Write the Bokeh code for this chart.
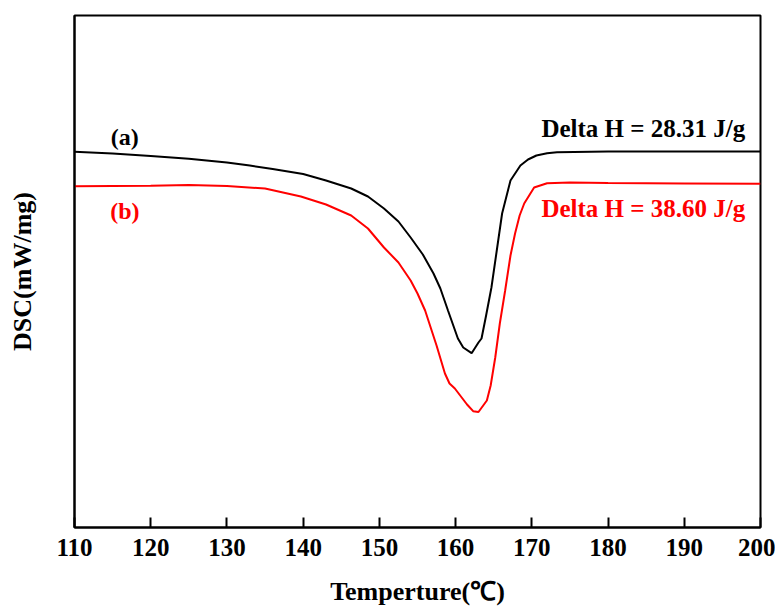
from bokeh.plotting import figure
from bokeh.models import Range1d, Label, FixedTicker
from bokeh.embed import file_html
from bokeh.resources import INLINE

# Temperature (°C) and DSC signal (arbitrary units)
temp_a = [110, 115, 120, 125, 130, 133, 136, 140, 143, 146.3, 148.5, 150.6, 152.5, 154.1,
          155.7, 157.1, 158, 159, 160.3, 161, 162.1, 163, 163.4, 164, 164.7, 165.4, 166.1,
          167.2, 168.5, 169.5, 170.6, 172, 173.3, 180, 190, 200]
dsc_a = [3.757, 3.74, 3.715, 3.687, 3.65, 3.62, 3.585, 3.535, 3.47, 3.39, 3.31, 3.19, 3.06, 2.90,
         2.73, 2.54, 2.39, 2.17, 1.89, 1.80, 1.743, 1.85, 1.89, 2.12, 2.40, 2.77, 3.14,
         3.47, 3.62, 3.68, 3.72, 3.742, 3.753, 3.76, 3.76, 3.76]

temp_b = [110, 115, 120, 125, 130, 135, 139.7, 143, 146.3, 148.5, 150.6, 152.5, 154.1, 155,
          156, 157.5, 158.6, 159.2, 159.9, 160.8, 161.5, 162.3, 163.0, 164.1, 164.6, 165.2,
          165.8, 166.5, 167.2, 167.8, 168.4, 169, 170.3, 172, 175, 180, 190, 200]
dsc_b = [3.413, 3.415, 3.417, 3.425, 3.415, 3.39, 3.31, 3.23, 3.12, 2.99, 2.80, 2.65, 2.47, 2.34,
         2.17, 1.82, 1.54, 1.44, 1.39, 1.30, 1.23, 1.163, 1.155, 1.27, 1.42, 1.70,
         2.04, 2.37, 2.72, 2.94, 3.12, 3.24, 3.40, 3.443, 3.45, 3.445, 3.44, 3.437]

x_ticks = [110, 120, 130, 140, 150, 160, 170, 180, 190, 200]
label_a = "(a)"
label_b = "(b)"
dh_a = "Delta H = 28.31 J/g"
dh_b = "Delta H = 38.60 J/g"

FONT = "Liberation Serif"

p = figure(width=775, height=600, frame_width=686, frame_height=512,
           output_backend="svg", toolbar_location=None,
           x_range=Range1d(110, 200), y_range=Range1d(0, 5.12),
           min_border_left=74, min_border_right=15, min_border_top=15, min_border_bottom=73)

p.background_fill_color = "white"
p.border_fill_color = "white"
p.outline_line_color = "black"
p.outline_line_width = 2
p.xgrid.visible = False
p.ygrid.visible = False

p.line(temp_a, dsc_a, line_color="black", line_width=2)
p.line(temp_b, dsc_b, line_color="#ff0000", line_width=2)

xa = p.xaxis[0]
xa.ticker = FixedTicker(ticks=x_ticks)
xa.axis_line_color = "black"
xa.axis_line_width = 2
xa.major_tick_in = 10
xa.major_tick_out = 0
xa.major_tick_line_width = 2
xa.minor_tick_line_color = None
xa.major_label_text_font = FONT
xa.major_label_text_font_style = "bold"
xa.major_label_text_font_size = "25px"
xa.major_label_text_color = "black"
xa.major_label_standoff = 11
xa.axis_label = "Temperture(℃)"
xa.axis_label_text_font = FONT
xa.axis_label_text_font_style = "bold"
xa.axis_label_text_font_size = "26px"
xa.axis_label_text_color = "black"
xa.axis_label_standoff = 18

ya = p.yaxis[0]
ya.ticker = FixedTicker(ticks=[])
ya.axis_line_color = "black"
ya.axis_line_width = 2
ya.major_tick_line_color = None
ya.minor_tick_line_color = None
ya.axis_label = "DSC(mW/mg)"
ya.axis_label_text_font = FONT
ya.axis_label_text_font_style = "bold"
ya.axis_label_text_font_size = "26px"
ya.axis_label_text_color = "black"
ya.axis_label_standoff = 38

for txt, x, y, col, align, size in [
    (label_a, 116.6, 3.91, "black", "center", "24px"),
    (label_b, 116.6, 3.17, "#ff0000", "center", "24px"),
    (dh_a, 198.0, 3.99, "black", "right", "25px"),
    (dh_b, 198.0, 3.19, "#ff0000", "right", "25px"),
]:
    p.add_layout(Label(x=x, y=y, text=txt, text_font=FONT, text_font_style="bold",
                       text_font_size=size, text_color=col, text_align=align,
                       text_baseline="middle"))

open("out.html", "w").write(file_html(p, INLINE))
